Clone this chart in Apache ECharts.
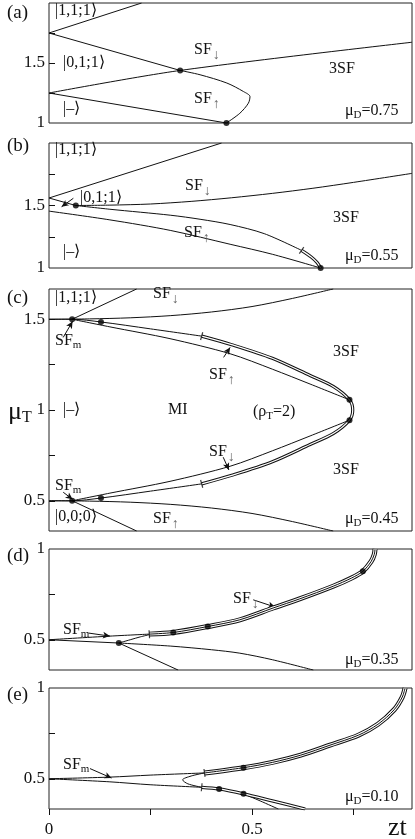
<!DOCTYPE html>
<html>
<head>
<meta charset="utf-8">
<script src="https://cdn.jsdelivr.net/npm/echarts@6/dist/echarts.min.js"></script>
<style>
  html, body { margin: 0; padding: 0; background: #fff; }
  #chart { width: 415px; height: 839px; }
</style>
</head>
<body>
<div id="chart"></div>
<script>
  // 横轴 zt，纵轴 mu_T，五个面板 (a)-(e)
  const X_MAX = 0.894;

  // (a) muD = 0.75
  const aTop = [[0, 1.75], [0.228, 2.0]];
  const aSfDown = [[0, 1.75], [0.323, 1.438]];
  const a3sf = [[0, 1.25], [0.323, 1.438], [0.894, 1.673]];
  const aNose = [[0.323, 1.438], [0.372, 1.402], [0.438, 1.333], [0.479, 1.262], [0.495, 1.22], [0.491, 1.165], [0.47, 1.081], [0.437, 1.0]];
  const aLower = [[0, 1.25], [0.437, 1.0]];
  const aDots = [[0.323, 1.438], [0.437, 1.0]];

  // (b) muD = 0.55
  const bTop = [[0, 1.56], [0.425, 2.0]];
  const bLeft = [[0, 1.56], [0.066, 1.5]];
  const b3sf = [[0.066, 1.5], [0.15, 1.503], [0.25, 1.512], [0.35, 1.533], [0.45, 1.562], [0.55, 1.597], [0.65, 1.638], [0.75, 1.685], [0.894, 1.757]];
  const bSfUp = [[0.066, 1.5], [0.15, 1.47], [0.3, 1.422], [0.372, 1.39], [0.446, 1.348], [0.53, 1.275], [0.622, 1.141]];
  const bSfUpEnd = [[0.622, 1.141], [0.645, 1.09], [0.66, 1.045], [0.669, 1.0]];
  const bLower = [[0, 1.455], [0.15, 1.385], [0.3, 1.3], [0.446, 1.19], [0.55, 1.11], [0.669, 1.0]];
  const bDots = [[0.066, 1.5], [0.669, 1.0]];
  const bTicks = [[0.622, 1.141]];
  const bArrows = [[[0.06, 1.558], [0.031, 1.49]]];

  // (c) muD = 0.45
  const cTop = [[0.057, 1.5], [0.216, 1.667]];
  const cSfDown = [[0, 1.5], [0.1, 1.502], [0.2, 1.508], [0.3, 1.52], [0.4, 1.54], [0.5, 1.57], [0.6, 1.615], [0.7, 1.667]];
  const cOuterUp = [[0, 1.5], [0.057, 1.5], [0.128, 1.485], [0.25, 1.447], [0.376, 1.407]];
  const cInnerUp = [[0.057, 1.5], [0.15, 1.458], [0.298, 1.393], [0.446, 1.31], [0.55, 1.225], [0.643, 1.143], [0.74, 1.056]];
  const cLobe = [[0.376, 1.407], [0.45, 1.36], [0.55, 1.285], [0.643, 1.19], [0.7, 1.13], [0.74, 1.056], [0.748, 1.0], [0.74, 0.944], [0.7, 0.87], [0.643, 0.81], [0.55, 0.715], [0.45, 0.64], [0.376, 0.593]];
  const cInnerLow = [[0.057, 0.5], [0.15, 0.542], [0.298, 0.607], [0.446, 0.69], [0.55, 0.775], [0.643, 0.857], [0.74, 0.944]];
  const cOuterLow = [[0, 0.5], [0.057, 0.5], [0.128, 0.515], [0.25, 0.553], [0.376, 0.593]];
  const cSfUp = [[0, 0.5], [0.1, 0.498], [0.2, 0.492], [0.3, 0.48], [0.4, 0.46], [0.5, 0.43], [0.6, 0.385], [0.7, 0.333]];
  const cBottom = [[0.057, 0.5], [0.216, 0.333]];
  const cDots = [[0.057, 1.5], [0.128, 1.485], [0.74, 1.056], [0.74, 0.944], [0.128, 0.515], [0.057, 0.5]];
  const cTicks = [[0.376, 1.407], [0.376, 0.593]];
  const cArrows = [
    [[0.035, 1.4], [0.058, 1.488]],
    [[0.43, 1.29], [0.446, 1.345]],
    [[0.429, 0.74], [0.443, 0.67]],
    [[0.035, 0.547], [0.058, 0.508]],
  ];

  // (d) muD = 0.35
  const dUpper = [[0, 0.5], [0.15, 0.52], [0.247, 0.531]];
  const dLowerLeft = [[0, 0.5], [0.172, 0.482]];
  const dJoin = [[0.172, 0.482], [0.2, 0.5], [0.225, 0.516], [0.247, 0.528]];
  const dBranch = [[0.247, 0.531], [0.306, 0.54], [0.391, 0.573], [0.47, 0.61], [0.552, 0.675], [0.617, 0.725], [0.7, 0.795], [0.745, 0.84], [0.773, 0.877], [0.793, 0.93], [0.801, 0.97], [0.803, 1.0]];
  const dDown = [[0.172, 0.482], [0.318, 0.333]];
  const dRight = [[0.172, 0.482], [0.3, 0.465], [0.4, 0.445], [0.47, 0.426], [0.55, 0.39], [0.651, 0.333]];
  const dDots = [[0.172, 0.482], [0.306, 0.54], [0.391, 0.573], [0.773, 0.877]];
  const dTicks = [[0.247, 0.53]];
  const dArrows = [[[0.097, 0.537], [0.15, 0.52]], [[0.503, 0.72], [0.557, 0.68]]];

  // (e) muD = 0.10
  const eUpper = [[0, 0.5], [0.15, 0.509], [0.249, 0.52], [0.383, 0.532]];
  const eNose = [[0.383, 0.532], [0.35, 0.515], [0.329, 0.494], [0.342, 0.472], [0.376, 0.453]];
  const eBranch = [[0.383, 0.532], [0.479, 0.561], [0.55, 0.59], [0.62, 0.63], [0.692, 0.685], [0.762, 0.74], [0.81, 0.8], [0.85, 0.88], [0.87, 0.95], [0.877, 1.0]];
  const eLowerLeft = [[0, 0.5], [0.15, 0.483], [0.249, 0.467], [0.376, 0.453]];
  const eLowerBranch = [[0.376, 0.453], [0.419, 0.444], [0.479, 0.417], [0.55, 0.378], [0.631, 0.333]];
  const eOffshoot = [[0.479, 0.417], [0.52, 0.378], [0.565, 0.333]];
  const eDots = [[0.479, 0.561], [0.419, 0.444], [0.479, 0.417]];
  const eTicks = [[0.383, 0.532], [0.376, 0.453]];
  const eArrows = [[[0.101, 0.556], [0.154, 0.504]]];

  // 坐标轴刻度
  const yLabelsAB = [1, 1.5];
  const yTicksAB = [1.25, 1.5, 1.75];
  const yLabelsC = [0.5, 1, 1.5];
  const yTicksC = [0.5, 0.75, 1, 1.25, 1.5];
  const yLabelsDE = [0.5, 1];
  const yTicksDE = [0.5, 0.75];
  const xLabels = [0, 0.5];
  const xTicks = [0, 0.25, 0.5, 0.75];

  const grids = [
    { top: 3, height: 120 },
    { top: 143, height: 125 },
    { top: 289, height: 242 },
    { top: 549, height: 121 },
    { top: 688, height: 121 },
  ];
  const yRanges = [[1, 2], [1, 2], [1 / 3, 5 / 3], [1 / 3, 1], [1 / 3, 1]];
  const yLabelSets = [yLabelsAB, yLabelsAB, yLabelsC, yLabelsDE, yLabelsDE];
  const yTickSets = [yTicksAB, yTicksAB, yTicksC, yTicksDE, yTicksDE];

  const INK = '#111';
  const FONT = '"Liberation Serif", serif';
  const series = [];

  function base(gi, data) {
    return {
      type: 'line', xAxisIndex: gi, yAxisIndex: gi, data: data,
      showSymbol: false, smooth: data.length > 2 ? 0.3 : 0,
      silent: true, animation: false,
    };
  }
  function thin(gi, data) {
    series.push(Object.assign(base(gi, data), { lineStyle: { color: INK, width: 1 }, z: 3 }));
  }
  function multi(gi, data, widths) {
    widths.forEach(function (w, k) {
      series.push(Object.assign(base(gi, data), {
        lineStyle: { color: k % 2 === 0 ? INK : '#fff', width: w }, z: 4 + k,
      }));
    });
  }
  function dbl(gi, data) { multi(gi, data, [3.2, 1.2]); }
  function trp(gi, data) { multi(gi, data, [5, 3, 1]); }
  function dots(gi, data) {
    series.push({
      type: 'scatter', xAxisIndex: gi, yAxisIndex: gi, data: data,
      symbolSize: 6, itemStyle: { color: '#000' }, silent: true, z: 10, animation: false,
    });
  }
  function tickAngle(p, curve, gi) {
    let best = 0, bd = Infinity;
    for (let i = 0; i < curve.length - 1; i++) {
      const mx = (curve[i][0] + curve[i + 1][0]) / 2, my = (curve[i][1] + curve[i + 1][1]) / 2;
      const d = (mx - p[0]) ** 2 + (my - p[1]) ** 2;
      if (d < bd) { bd = d; best = i; }
    }
    const sx = 363 / X_MAX;
    const sy = grids[gi].height / (yRanges[gi][1] - yRanges[gi][0]);
    const dx = (curve[best + 1][0] - curve[best][0]) * sx;
    const dy = (curve[best + 1][1] - curve[best][1]) * sy;
    return Math.atan2(dy, dx) * 180 / Math.PI;
  }
  function ticks(gi, data, curves) {
    series.push({
      type: 'scatter', xAxisIndex: gi, yAxisIndex: gi,
      data: data.map(function (p, i) {
        return { value: p, symbolRotate: tickAngle(p, curves[i], gi) };
      }),
      symbol: 'rect', symbolSize: [1.2, 8], itemStyle: { color: INK }, silent: true, z: 9, animation: false,
    });
  }
  function arrows(gi, list) {
    series.push({
      type: 'line', xAxisIndex: gi, yAxisIndex: gi, data: [], silent: true, animation: false,
      markLine: {
        silent: true, animation: false, symbol: ['none', 'arrow'], symbolSize: [5, 7],
        lineStyle: { color: INK, width: 1, type: 'solid' }, label: { show: false },
        data: list.map(function (a) { return [{ coord: a[0] }, { coord: a[1] }]; }),
      },
    });
  }

  // (a)
  [aTop, aSfDown, a3sf, aNose, aLower].forEach(function (d) { thin(0, d); });
  dots(0, aDots);
  // (b)
  [bTop, bLeft, b3sf, bSfUp, bLower].forEach(function (d) { thin(1, d); });
  dbl(1, bSfUpEnd);
  dots(1, bDots);
  ticks(1, bTicks, [bSfUpEnd]);
  arrows(1, bArrows);
  // (c)
  [cTop, cSfDown, cOuterUp, cInnerUp, cInnerLow, cOuterLow, cSfUp, cBottom].forEach(function (d) { thin(2, d); });
  dbl(2, cLobe);
  dots(2, cDots);
  ticks(2, cTicks, [cLobe, cLobe.slice(-3)]);
  arrows(2, cArrows);
  // (d)
  [dUpper, dLowerLeft, dJoin, dDown, dRight].forEach(function (d) { thin(3, d); });
  trp(3, dBranch);
  dots(3, dDots);
  ticks(3, dTicks, [dBranch]);
  arrows(3, dArrows);
  // (e)
  [eUpper, eNose, eLowerLeft, eOffshoot].forEach(function (d) { thin(4, d); });
  trp(4, eBranch);
  dbl(4, eLowerBranch);
  dots(4, eDots);
  ticks(4, eTicks, [eBranch, eLowerBranch]);
  arrows(4, eArrows);

  const xAxes = grids.map(function (g, i) {
    const last = i === grids.length - 1;
    return {
      type: 'value', gridIndex: i, min: 0, max: X_MAX, show: last,
      axisLine: { show: false }, splitLine: { show: false },
      axisTick: { show: last, customValues: xTicks, length: 6, inside: false, lineStyle: { color: INK } },
      axisLabel: { show: last, customValues: xLabels, color: INK, fontFamily: FONT, fontSize: 17, margin: 12 },
    };
  });
  const yAxes = grids.map(function (g, i) {
    return {
      type: 'value', gridIndex: i, min: yRanges[i][0], max: yRanges[i][1],
      axisLine: { show: false }, splitLine: { show: false },
      axisTick: { show: true, customValues: yTickSets[i], inside: true, length: 6, lineStyle: { color: INK } },
      axisLabel: { customValues: yLabelSets[i], color: INK, fontFamily: FONT, fontSize: 17, margin: 4 },
    };
  });

  const rich = {
    m: { fontFamily: FONT, fontSize: 16, fill: INK, color: INK },
    s: { fontFamily: FONT, fontSize: 11, fill: INK, color: INK, padding: [9, 0, 0, 0] },
    r: { fontFamily: FONT, fontSize: 14, fill: '#666', color: '#666', padding: [10, 0, 0, 1] },
    p: { fontFamily: FONT, fontSize: 19, fill: INK, color: INK },
    b: { fontFamily: FONT, fontSize: 26, fill: INK, color: INK },
    bs: { fontFamily: FONT, fontSize: 16, fill: INK, color: INK, padding: [12, 0, 0, 0] },
    z: { fontFamily: FONT, fontSize: 26, fill: INK, color: INK },
  };
  const SFd = '{m|SF}{r|↓}', SFu = '{m|SF}{r|↑}', SFm = '{m|SF}{s|m}';
  const mu = function (v) { return '{m|μ}{s|D}{m|=' + v + '}'; };
  const labels = [
    [7, 13, '{p|(a)}'], [55, 11, '{m||1,1;1⟩}'], [63, 63, '{m||0,1;1⟩}'], [63, 109, '{m||–⟩}'],
    [194, 50, SFd], [194, 99, SFu], [329, 69, '{m|3SF}'], [345, 111, mu('0.75')],
    [7, 146, '{p|(b)}'], [55, 150, '{m||1,1;1⟩}'], [185, 186, SFd], [80, 198, '{m||0,1;1⟩}'],
    [333, 218, '{m|3SF}'], [184, 233, SFu], [63, 252, '{m||–⟩}'], [345, 256, mu('0.55')],
    [7, 298, '{p|(c)}'], [55, 298, '{m||1,1;1⟩}'], [153, 294, SFd], [55, 341, SFm],
    [333, 352, '{m|3SF}'], [209, 375, SFu], [8, 412, '{b|μ}{bs|T}'], [63, 410, '{m||–⟩}'],
    [168, 410, '{m|MI}'], [253, 412, '{m|(ρ}{s|T}{m|=2)}'], [209, 452, SFd], [333, 470, '{m|3SF}'],
    [55, 486, SFm], [55, 517, '{m||0,0;0⟩}'], [153, 519, SFu], [345, 519, mu('0.45')],
    [7, 556, '{p|(d)}'], [233, 599, SFd], [63, 630, SFm], [345, 660, mu('0.35')],
    [7, 695, '{p|(e)}'], [63, 765, SFm], [345, 797, mu('0.10')], [388, 828, '{z|zt}'],
  ];

  const chart = echarts.init(document.getElementById('chart'), null, { renderer: 'canvas' });
  chart.setOption({
    animation: false,
    backgroundColor: '#fff',
    grid: grids.map(function (g) {
      return { left: 49, right: 3, top: g.top, height: g.height, show: true, borderColor: '#222', borderWidth: 1, backgroundColor: 'transparent' };
    }),
    xAxis: xAxes,
    yAxis: yAxes,
    series: series,
    graphic: labels.map(function (l) {
      return {
        type: 'text', x: l[0], y: l[1], silent: true, z: 20,
        style: { text: l[2], rich: rich, verticalAlign: 'middle', align: 'left', fill: INK, fontFamily: FONT, fontSize: 16 },
      };
    }),
  });
</script>
</body>
</html>
